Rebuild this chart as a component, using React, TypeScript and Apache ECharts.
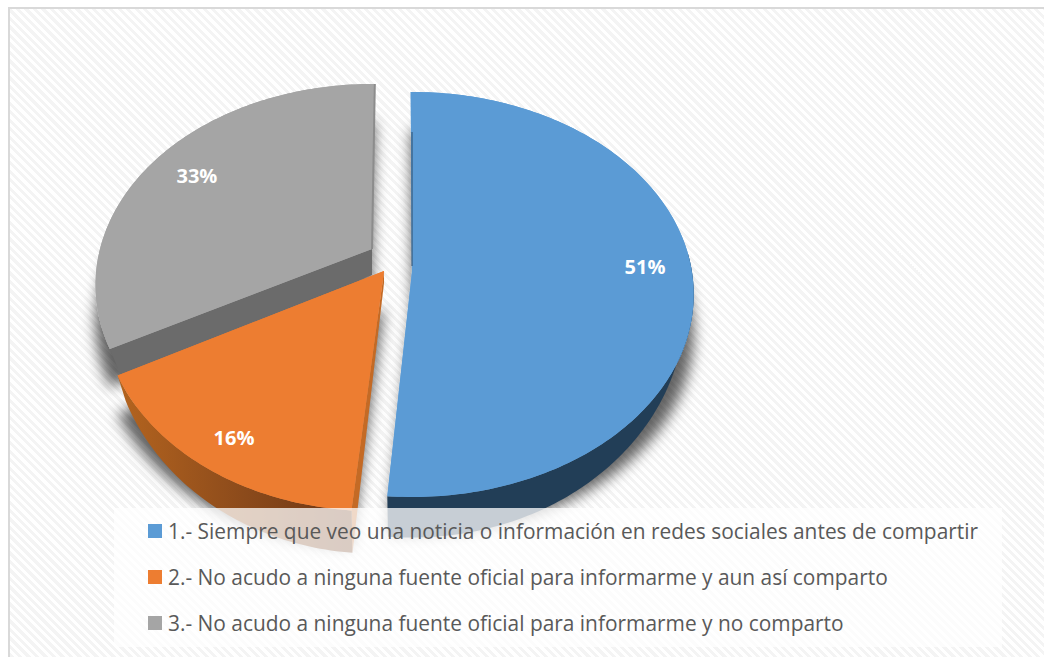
import React, { useEffect, useRef } from "react";
import * as echarts from "echarts";

const categories = [
  "1.- Siempre que veo una noticia o información en redes sociales antes de compartir",
  "2.- No acudo a ninguna fuente oficial para informarme y aun así comparto",
  "3.- No acudo a ninguna fuente oficial para informarme y no comparto",
];
const percentValues = [51, 16, 33];
const topColors = ["#5b9bd5", "#ed7d31", "#a5a5a5"];

// Projection of each exploded slice (a tilted disc seen in perspective).
const geometry = [
  { ax: 412, ay: 272, A: 200, B: 280, k: 0.111, lean: 0, d0: 8, d1: 0.145, wS: 0.97, lx: 0, ly: -12, da0: -1, da1: 0.2, outer: true },
  { ax: 384, ay: 271, A: 208, B: 279, k: 0.134, lean: -0.035, d0: 12, d1: 0.127, wS: 0.97, lx: -5, ly: 7, da0: 0, da1: 0, outer: true },
  { ax: 372, ay: 249, A: 194.5, B: 272, k: 0.179, lean: 0, d0: 26, d1: 0, wS: 0.96, lx: 4, ly: 4, da0: 0, da1: 0, outer: false },
];
const START_DEG = 0.7;
const DRAW_ORDER = [2, 1, 0];

const WALL_FILL: any[] = [
  "#223e57",
  {
    type: "linear", x: 0, y: 0, x2: 1, y2: 0,
    colorStops: [
      { offset: 0, color: "#b4641f" },
      { offset: 0.55, color: "#8b4a1b" },
      { offset: 1, color: "#6b3413" },
    ],
  },
  "#6b6b6b",
];
const RADIAL_FILL = ["#223e57", "#c46a25", "#6b6b6b"];

function project(g: any, thetaDeg: number, r: number) {
  const t = (thetaDeg * Math.PI) / 180;
  const u = r * Math.sin(t);
  const v = r * Math.cos(t);
  const s = 1 / (1 + g.k * v);
  const dy = -g.A * v * s;
  const dx = g.B * u * s + g.lean * dy;
  return [dx, dy];
}
const toTop = (g: any, p: number[]) => [g.ax + p[0], g.ay + p[1]];
const toWall = (g: any, p: number[]) => [
  g.ax + p[0] * g.wS,
  g.ay + p[1] + g.d0 + g.d1 * p[1],
];

function sliceRange(index: number) {
  const total = percentValues.reduce((a, b) => a + b, 0);
  const before = percentValues.slice(0, index).reduce((a, b) => a + b, 0);
  const a0 = START_DEG + (before / total) * 360;
  return [a0 + geometry[index].da0, a0 + (percentValues[index] / total) * 360 + geometry[index].da1];
}

function sliceElement(index: number) {
  const g = geometry[index];
  const [a0, a1] = sliceRange(index);
  const rim: number[][] = [];
  for (let a = a0; a < a1; a += 1) rim.push(project(g, a, 1));
  rim.push(project(g, a1, 1));
  const zero = [0, 0];
  const topPts = [toTop(g, zero), ...rim.map((p) => toTop(g, p))];
  const wallRim = g.outer ? rim.filter((p) => p[1] > -20) : [];
  const shadow = {
    shadowBlur: 14,
    shadowColor: "rgba(0,0,0,0.6)",
    shadowOffsetX: 0,
    shadowOffsetY: 38,
  };
  const rStart = rim[0];
  const rEnd = rim[rim.length - 1];
  const radial = [toTop(g, zero), toTop(g, rStart), toWall(g, rStart), toWall(g, zero)];
  const mid = (a0 + a1) / 2;
  const lp = toTop(g, project(g, mid, 0.83));
  const children: any[] = [
    { type: "polygon", shape: { points: topPts }, style: { fill: topColors[index], ...shadow } },
  ];
  if (index !== 0) {
    children.push({ type: "polygon", shape: { points: radial }, style: { fill: RADIAL_FILL[index] } });
  }
  if (wallRim.length) {
    children.push({
      type: "polygon",
      shape: {
        points: [
          ...wallRim.map((p) => toTop(g, p)),
          ...wallRim.slice().reverse().map((p) => toWall(g, p)),
        ],
      },
      style: { fill: WALL_FILL[index] },
    });
  }
  children.push({ type: "polygon", shape: { points: topPts }, style: { fill: topColors[index] } });
  if (index === 2) {
    children.push({
      type: "polyline",
      shape: { points: [toTop(g, zero), toTop(g, rEnd)] },
      style: { stroke: "#8c8c8c", lineWidth: 2, fill: "none" },
    });
  }
  if (index === 0) {
    children.push({
      type: "polyline",
      shape: { points: [toTop(g, [0, -140]), toTop(g, [0, -6])] },
      style: { stroke: "#2f4f6c", lineWidth: 1, fill: "none" },
    });
  }
  children.push({
    type: "text",
    style: {
      x: lp[0] + g.lx,
      y: lp[1] + g.ly,
      text: percentValues[index] + "%",
      fill: "#ffffff",
      font: "bold 20px 'Open Sans'",
      align: "center",
      verticalAlign: "middle",
    },
  });
  return { type: "group", children };
}

export default function App() {
  const ref = useRef<HTMLDivElement>(null);
  useEffect(() => {
    document.body.style.margin = "0";
    const chart = echarts.init(ref.current!, null, { renderer: "svg" });
    chart.setOption({
      animation: false,
      backgroundColor: "transparent",
      legend: {
        orient: "vertical",
        left: 148,
        top: 518,
        itemWidth: 14,
        itemHeight: 14,
        itemGap: 20,
        icon: "rect",
        z: 6,
        textStyle: {
          color: "#595959",
          fontFamily: "'Open Sans'",
          fontSize: 20.9,
          padding: [0, 0, 0, 1],
          lineHeight: 26,
        },
        padding: 0,
        selectedMode: false,
        data: categories,
      },
      graphic: [
        {
          type: "rect",
          z: 5,
          shape: { x: 114, y: 508, width: 888, height: 139 },
          style: { fill: "rgba(255,255,255,0.75)" },
        },
      ],
      series: DRAW_ORDER.map((i) => ({
        type: "custom",
        name: categories[i],
        coordinateSystem: "none",
        itemStyle: { color: topColors[i] },
        data: [percentValues[i]],
        renderItem: () => sliceElement(i),
        z: 2,
      })),
    });
    return () => chart.dispose();
  }, []);
  return (
    <div
      style={{
        position: "absolute",
        left: 8,
        top: 7,
        width: 1036,
        height: 650,
        boxSizing: "border-box",
        borderTop: "2px solid #d9d9d9",
        borderLeft: "2px solid #d9d9d9",
        background:
          "repeating-linear-gradient(45deg, #f4f4f4 0px, #f4f4f4 3px, #ffffff 3px, #ffffff 6px)",
      }}
    >
      <div
        ref={ref}
        style={{ position: "absolute", left: -10, top: -9, width: 1044, height: 657 }}
      />
    </div>
  );
}
